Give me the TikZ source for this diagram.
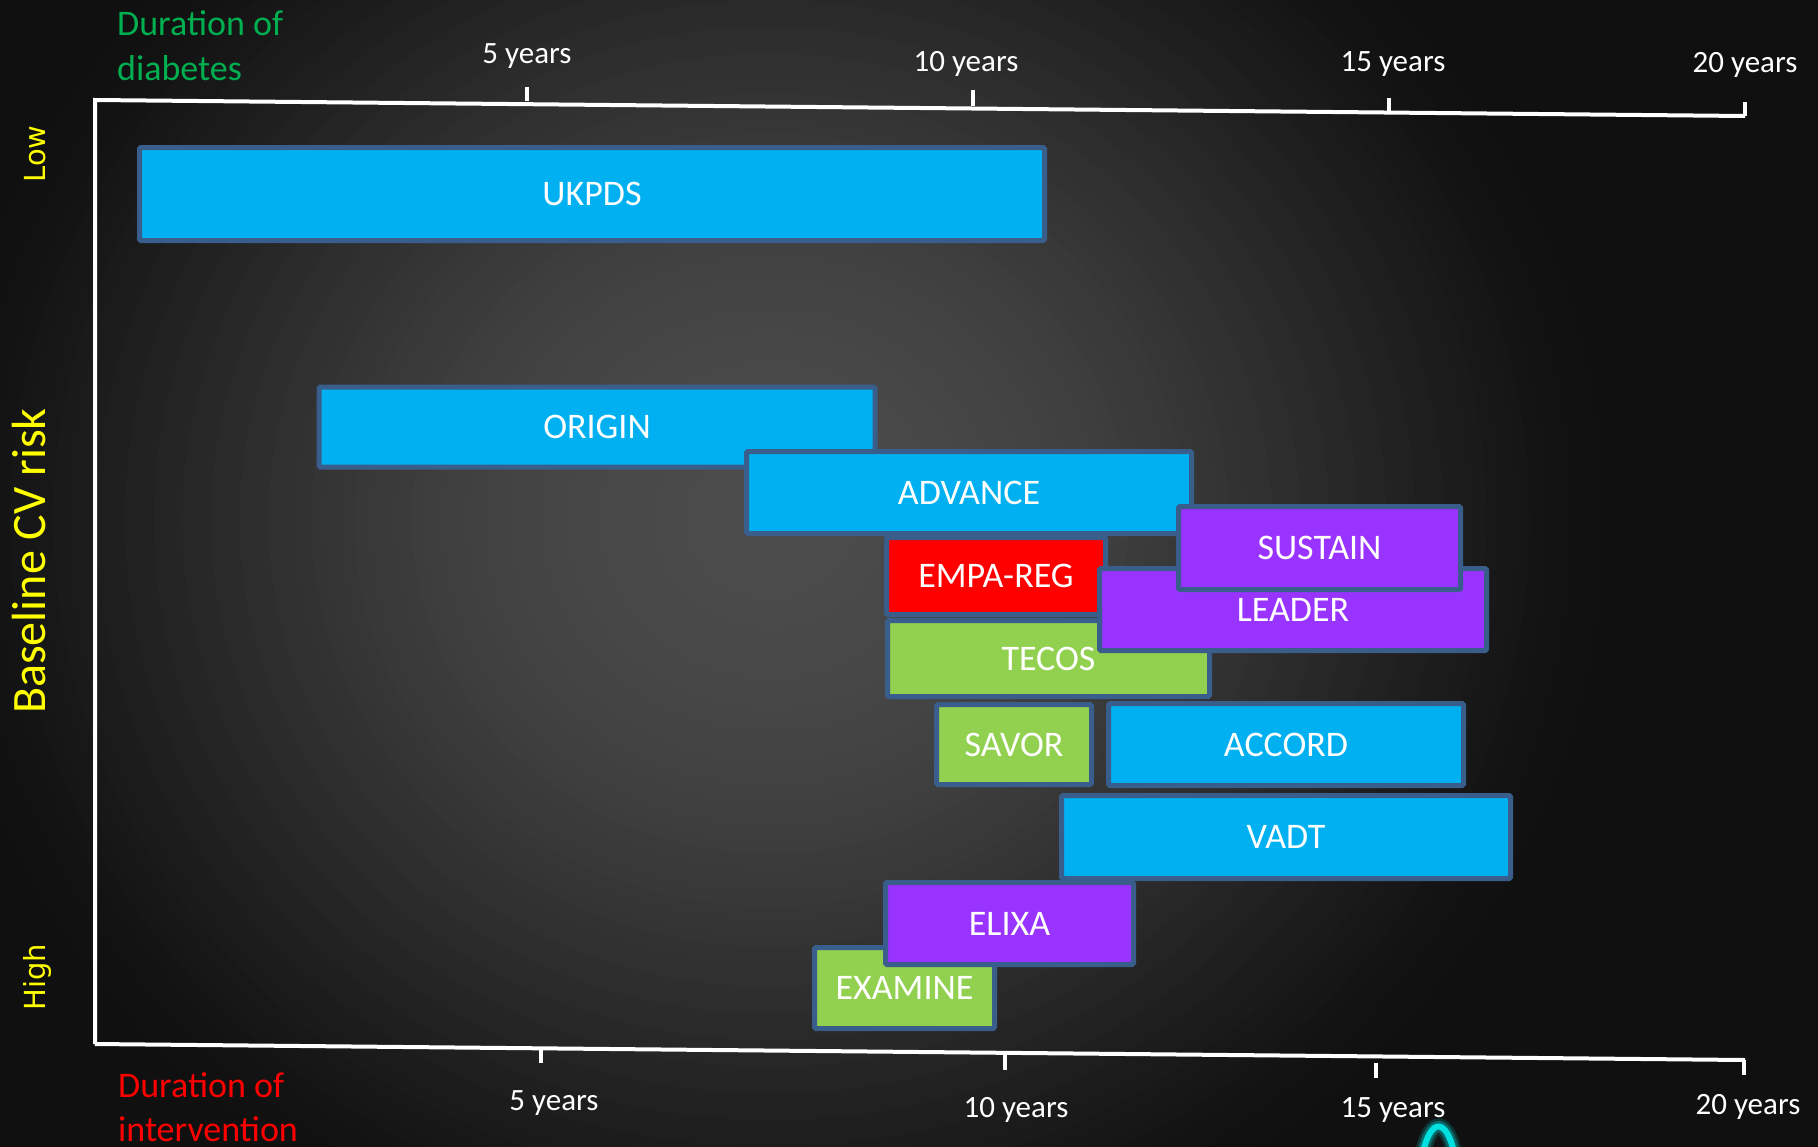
\documentclass[tikz,border=0pt]{standalone}
\usepackage{fontspec}
\setmainfont{Carlito}
\newfontfamily\dejavu{DejaVu Sans}
\definecolor{boxblue}{HTML}{00B0F0}
\definecolor{boxgreen}{HTML}{92D050}
\definecolor{boxred}{HTML}{FF0000}
\definecolor{boxpurple}{HTML}{9933FF}
\definecolor{boxedge}{HTML}{3A5E8C}
\definecolor{dgreen}{HTML}{00B050}
\definecolor{ylw}{HTML}{FFFF00}
\definecolor{glowc}{HTML}{00E0E0}
\definecolor{bgG}{HTML}{101010}
\tikzset{
  trial/.style={draw=boxedge, line width=5pt, rounded corners=1.5pt, inner sep=0pt,
    text=white, font=\fontsize{36}{40}\selectfont, anchor=center},
  axisline/.style={draw=white, line width=4pt},
  axtick/.style={draw=white, line width=4pt},
  yearlbl/.style={text=white, font=\fontsize{31}{36}\selectfont, anchor=base, inner sep=0pt},
  titlelbl/.style={font=\fontsize{36}{40}\selectfont, anchor=base west, inner sep=0pt},
  risklbl/.style={text=ylw, rotate=90, anchor=base, inner sep=0pt}
}
\begin{document}
\begin{tikzpicture}[x=1pt, y=-1pt]
\useasboundingbox (0,0) rectangle (1818,1146);
\begin{scope}
  \clip (0,0) rectangle (1818,1146);
  \fill[bgG] (-5,-5) rectangle (1823,1151);
  \foreach \i in {60,59,...,1} {
    \pgfmathsetmacro\tt{\i/60}
    \pgfmathtruncatemacro\gv{16+60*(1-\tt*\tt)^1.5}
    \definecolor{bgtmp}{RGB}{\gv,\gv,\gv}
    \pgfmathsetmacro\rx{860*\tt}
    \pgfmathsetmacro\ry{800*\tt}
    \fill[bgtmp] (770,520) ellipse [x radius=\rx pt, y radius=\ry pt];
  }
\end{scope}

% axes
\coordinate (tl) at (95,100);
\coordinate (tr) at (1745,116);
\coordinate (bl) at (95,1044);
\coordinate (br) at (1745,1060);
\draw[axisline] (bl) -- (tl) -- (tr);
\draw[axisline] (bl) -- (br);

% top ticks
\coordinate (t5a) at (527,87);   \coordinate (t5b) at (527,101);
\coordinate (t10a) at (973,90);  \coordinate (t10b) at (973,106);
\coordinate (t15a) at (1389,98); \coordinate (t15b) at (1389,112);
\coordinate (t20a) at (1745,102);\coordinate (t20b) at (1745,116);
\draw[axtick] (t5a) -- (t5b);
\draw[axtick] (t10a) -- (t10b);
\draw[axtick] (t15a) -- (t15b);
\draw[axtick] (t20a) -- (t20b);
% bottom ticks
\coordinate (b5a) at (541,1050);   \coordinate (b5b) at (541,1063);
\coordinate (b10a) at (1005,1054); \coordinate (b10b) at (1005,1070);
\coordinate (b15a) at (1376,1063); \coordinate (b15b) at (1376,1078);
\coordinate (b20a) at (1744,1060); \coordinate (b20b) at (1744,1075);
\draw[axtick] (b5a) -- (b5b);
\draw[axtick] (b10a) -- (b10b);
\draw[axtick] (b15a) -- (b15b);
\draw[axtick] (b20a) -- (b20b);

% year labels
\node[yearlbl] (ty5) at (527,63) {5 years};
\node[yearlbl] (ty10) at (966,71) {10 years};
\node[yearlbl] (ty15) at (1393,71) {15 years};
\node[yearlbl] (ty20) at (1745,72) {20 years};
\node[yearlbl] (by5) at (554,1110) {5 years};
\node[yearlbl] (by10) at (1016,1117) {10 years};
\node[yearlbl] (by15) at (1393,1117) {15 years};
\node[yearlbl] (by20) at (1748,1114) {20 years};

% axis titles
\node[titlelbl, text=dgreen] (dd1) at (117,35) {Duration of};
\node[titlelbl, text=dgreen] (dd2) at (117,80) {diabetes};
\node[titlelbl, text=boxred] (di1) at (118,1097) {Duration of};
\node[titlelbl, text=boxred] (di2) at (118,1141) {intervention};

\node[risklbl, font=\fontsize{48}{52}\selectfont] (risk) at (45,561) {Baseline CV risk};
\node[risklbl, font=\dejavu\fontsize{29}{32}\selectfont] (low) at (45,154) {Low};
\node[risklbl, font=\dejavu\fontsize{29}{32}\selectfont] (high) at (45,977) {High};

% trials
\node[trial, fill=boxblue, minimum width=905pt, minimum height=93pt] (ukpds) at (592,194) {UKPDS};
\node[trial, fill=boxblue, minimum width=556pt, minimum height=80pt] (origin) at (597,427) {ORIGIN};
\node[trial, fill=boxblue, minimum width=445pt, minimum height=82pt] (advance) at (969,492.5) {ADVANCE};
\node[trial, fill=boxred, minimum width=219pt, minimum height=77pt] (empareg) at (996,576) {EMPA-REG};
\node[trial, fill=boxgreen, minimum width=322pt, minimum height=76pt] (tecos) at (1048.5,658.5) {TECOS};
\node[trial, fill=boxpurple, minimum width=387pt, minimum height=82pt] (leader) at (1293,609.5) {LEADER};
\node[trial, fill=boxpurple, minimum width=282pt, minimum height=83pt] (sustain) at (1319.5,548) {SUSTAIN};
\node[trial, fill=boxgreen, minimum width=155pt, minimum height=80pt] (savor) at (1014,744.5) {SAVOR};
\node[trial, fill=boxblue, minimum width=355pt, minimum height=82pt] (accord) at (1286,744.5) {ACCORD};
\node[trial, fill=boxblue, minimum width=449pt, minimum height=83pt] (vadt) at (1286,837) {VADT};
\node[trial, fill=boxgreen, minimum width=180pt, minimum height=81pt] (examine) at (904.5,988) {EXAMINE};
\node[trial, fill=boxpurple, minimum width=248pt, minimum height=82pt] (elixa) at (1009.5,923.5) {ELIXA};

% cyan glowing arc at the bottom edge
\coordinate (ga) at (1423,1152);
\coordinate (gb) at (1454,1152);
\draw[glowc, line width=16pt, opacity=0.18, line cap=round] (ga) .. controls (1431,1118) and (1446,1118) .. (gb);
\draw[glowc, line width=11pt, opacity=0.3, line cap=round] (ga) .. controls (1431,1118) and (1446,1118) .. (gb);
\draw[glowc, line width=6pt, line cap=round] (ga) .. controls (1431,1118) and (1446,1118) .. (gb);
\end{tikzpicture}
\end{document}
